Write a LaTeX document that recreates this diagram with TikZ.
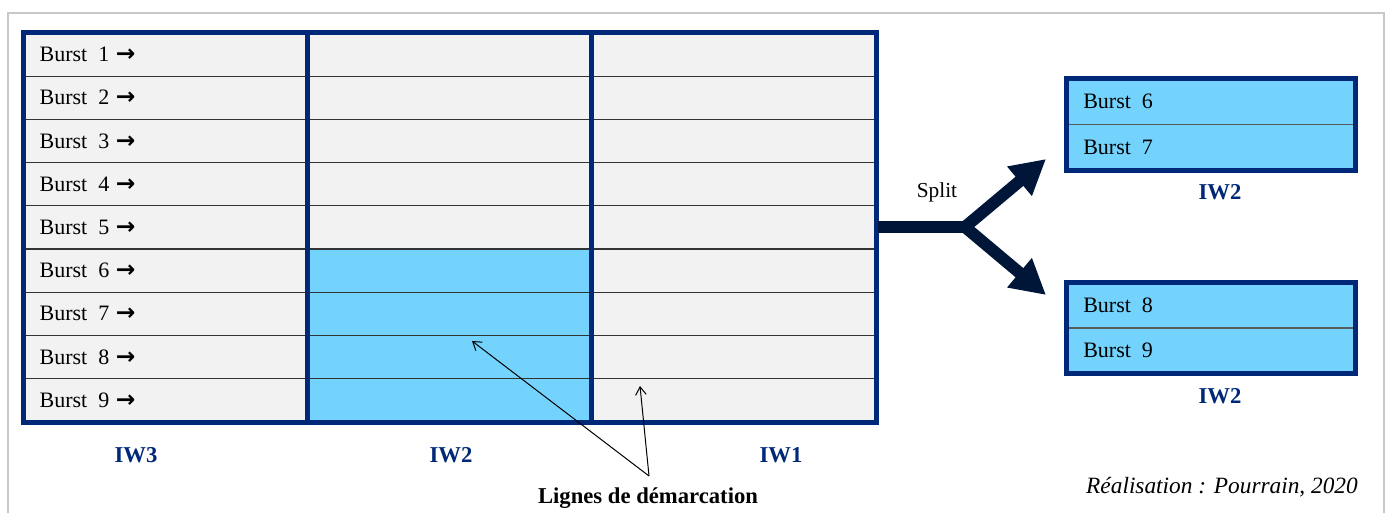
\documentclass[tikz,border=0pt]{standalone}
\usepackage{fontspec}
\setmainfont{Liberation Serif}
\newfontfamily\arrowfont{DejaVu Sans}
\usetikzlibrary{arrows.meta}
\definecolor{navy}{RGB}{0,40,120}
\definecolor{splitnavy}{RGB}{0,22,56}
\definecolor{cellgray}{RGB}{242,242,242}
\definecolor{iwblue}{RGB}{115,211,253}
\definecolor{framegray}{RGB}{200,200,200}
\begin{document}
\begin{tikzpicture}[x=0.75pt,y=-0.75pt,
  cell/.style={draw=black!80, line width=1pt, fill=cellgray, minimum width=213pt, minimum height=32.4pt, inner sep=0pt},
  sidecell/.style={draw=black!65, line width=1pt, fill=iwblue, minimum width=216pt, minimum height=34pt, inner sep=0pt},
  thick border/.style={draw=navy, line width=3.8pt},
  bursttext/.style={font=\fontsize{16.5}{18}\selectfont, inner sep=0pt, anchor=west},
  iwlabel/.style={font=\fontsize{17}{19}\selectfont\bfseries, text=navy, inner sep=0pt},
  pointer/.style={draw=black, line width=0.75pt, -{Straight Barb[length=6pt,width=8pt]}},
  splitline/.style={draw=splitnavy, line width=9pt, line join=miter},
  splittips/.style={{Triangle[length=26pt,width=27pt]}-{Triangle[length=26pt,width=27pt]}}
]
\useasboundingbox (0,0) rectangle (1387,513);
% outer frame
\draw[framegray, line width=1pt] (8,513) -- (8,13) -- (1384,13) -- (1384,513);
% main grid
\foreach \r in {1,...,9} {
  \foreach \c in {1,2,3} {
    \pgfmathsetmacro{\cx}{24+284*(\c-0.5)}
    \pgfmathsetmacro{\cy}{33+43.2*(\r-0.5)}
    \ifnum\c=2 \ifnum\r>5
      \node[cell, fill=iwblue] (cell-\r-\c) at (\cx,\cy) {};
    \else
      \node[cell] (cell-\r-\c) at (\cx,\cy) {};
    \fi \else
      \node[cell] (cell-\r-\c) at (\cx,\cy) {};
    \fi
  }
  \node[bursttext] (burst-\r) at ([xshift=12pt]cell-\r-1.west) {Burst\enspace\r\kern5pt{\arrowfont\bfseries\fontsize{17.5}{18}\selectfont →}};
}
\draw[thick border] (cell-1-1.north west) rectangle (cell-9-3.south east);
\draw[thick border] (cell-1-2.north west) -- (cell-9-2.south west);
\draw[thick border] (cell-1-3.north west) -- (cell-9-3.south west);
% column labels
\node[iwlabel] (iw3) at (136,455) {IW3};
\node[iwlabel] (iw2) at (451,455) {IW2};
\node[iwlabel] (iw1) at (781,455) {IW1};
% demarcation
\node[font=\fontsize{17}{19}\selectfont\bfseries, inner sep=0pt] (lignes) at (648,498) {Lignes de démarcation};
\coordinate (apex) at (649,476);
\coordinate (tipA) at (472,341);
\coordinate (tipB) at (640,386);
\draw[pointer] (apex) -- (tipA);
\draw[pointer] (apex) -- (tipB);
% split
\node[font=\fontsize{16}{18}\selectfont, inner sep=0pt] (split) at (937,192) {Split};
\coordinate (splitstart) at (878,227);
\coordinate (junction) at (965,227);
\coordinate (uptip) at (1046,159);
\coordinate (downtip) at (1046,295);
\draw[splitline] (splitstart) -- (junction);
\draw[splitline, splittips] (uptip) -- (junction) -- (downtip);
% right boxes
\node[sidecell] (s6) at (1211,101.8) {};
\node[sidecell] (s7) at (1211,147.2) {};
\node[sidecell] (s8) at (1211,305.5) {};
\node[sidecell] (s9) at (1211,350.5) {};
\draw[thick border] (s6.north west) rectangle (s7.south east);
\draw[thick border] (s8.north west) rectangle (s9.south east);
\node[bursttext] (t6) at ([xshift=12.5pt]s6.west) {Burst\enspace 6};
\node[bursttext] (t7) at ([xshift=12.5pt]s7.west) {Burst\enspace 7};
\node[bursttext] (t8) at ([xshift=12.5pt]s8.west) {Burst\enspace 8};
\node[bursttext] (t9) at ([xshift=12.5pt]s9.west) {Burst\enspace 9};
\node[iwlabel] (iw2a) at (1220,192) {IW2};
\node[iwlabel] (iw2b) at (1220,396) {IW2};
% credit
\node[font=\fontsize{17.5}{19}\selectfont\itshape, inner sep=0pt] (credit) at (1222,487) {Réalisation : Pourrain, 2020};
\end{tikzpicture}
\end{document}
